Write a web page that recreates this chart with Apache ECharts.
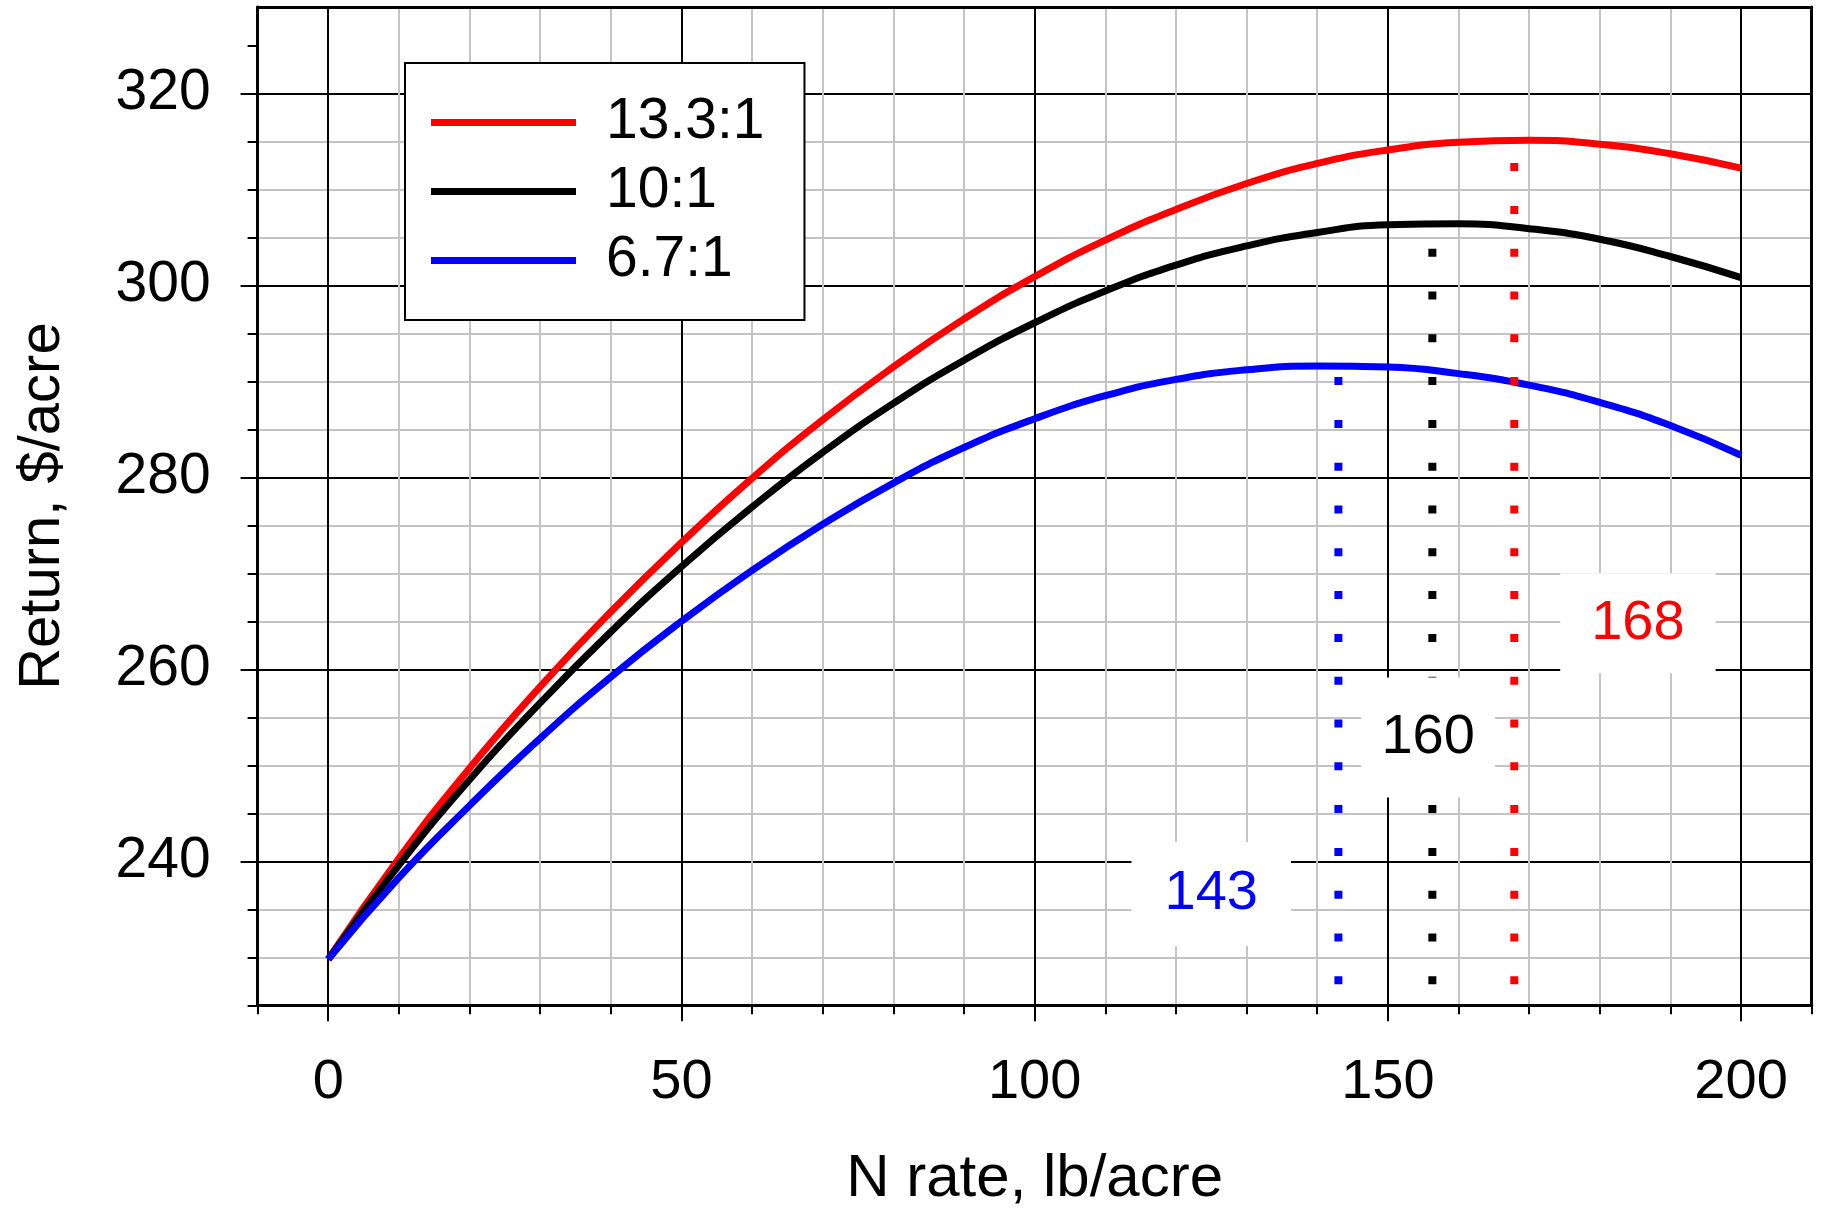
<!DOCTYPE html>
<html>
<head>
<meta charset="utf-8">
<title>Return vs N rate</title>
<script src="https://cdn.jsdelivr.net/npm/echarts@6/dist/echarts.min.js"></script>
<style>
  html, body { margin: 0; padding: 0; background: #fff; }
  #chart { width: 1826px; height: 1211px; }
</style>
</head>
<body>
<div id="chart"></div>
<script>
// N rate, lb/acre
const nRate = [0, 10, 20, 30, 40, 50, 60, 70, 80, 90, 100, 110, 120, 130, 140, 150, 160, 170, 180, 190, 200];
// Return, $/acre for each price ratio
const ret133 = [229.8, 240.3, 249.7, 258.2, 266.0, 273.2, 279.9, 286.0, 291.5, 296.5, 300.9, 304.7, 307.9, 310.6, 312.7, 314.1, 314.9, 315.1, 314.7, 313.7, 312.2];
const ret10 = [229.8, 239.6, 248.5, 256.5, 263.9, 270.7, 276.9, 282.6, 287.7, 292.2, 296.1, 299.4, 302.1, 304.1, 305.5, 306.3, 306.4, 305.9, 304.8, 303.0, 300.8];
const ret67 = [229.8, 238.3, 245.8, 252.8, 259.2, 265.0, 270.3, 275.1, 279.4, 283.1, 286.1, 288.5, 290.2, 291.2, 291.6, 291.5, 290.8, 289.6, 287.8, 285.4, 282.3];

const ratioNames = ["13.3:1", "10:1", "6.7:1"];
const ratioColors = ["#ff0000", "#000000", "#0000ff"];

// economic optimum N rate (dotted lines) and their labels
const optRate = [167.9, 156.3, 143.0];
const optReturn = [315.1, 306.8, 291.6];
const optText = ["168", "160", "143"];
const optLabelN = [185.4, 155.7, 125.0];
const optLabelY = [264.8, 252.9, 236.6];

// axes
const xMin = -10, xMax = 210;
const yMin = 225, yMax = 329;
const xMajor = [0, 50, 100, 150, 200];
const yMajor = [240, 260, 280, 300, 320];

const FONT = "'Liberation Sans', Arial, sans-serif";
const GRAY = "#c4c4c4";

const yMinorTicks = [];
for (let v = yMin; v <= 325; v += 5) yMinorTicks.push(v);

const chart = echarts.init(document.getElementById("chart"));

const retSets = [ret133, ret10, ret67];
const curveSeries = retSets.map((vals, i) => ({
    name: ratioNames[i],
    type: "line",
    data: nRate.map((n, k) => [n, vals[k]]),
    smooth: 0.5,
    showSymbol: false,
    lineStyle: { color: ratioColors[i], width: 7 },
    itemStyle: { color: ratioColors[i] },
    z: 3,
    silent: true
}));

// dotted drop lines from each curve peak down to the floor
const dropSeries = optRate.map((n, i) => ({
    name: "opt" + i,
    type: "line",
    data: [[n, yMin], [n, optReturn[i]]],
    showSymbol: false,
    lineStyle: { color: ratioColors[i], width: 8, type: [8, 34.8], dashOffset: 21.8, cap: "butt" },
    z: 4,
    silent: true
}));

const labelPad = [[22, 31], [32, 20], [24, 33]];
const labelSeries = {
    name: "optLabels",
    type: "scatter",
    symbolSize: 0,
    z: 6,
    silent: true,
    itemStyle: { opacity: 1 },
    emphasis: { disabled: true },
    data: optText.map((t, i) => ({
        value: [optLabelN[i], optLabelY[i]],
        label: {
            show: true,
            position: "inside",
            formatter: t,
            color: ratioColors[i],
            opacity: 1,
            fontSize: 56,
            lineHeight: 56,
            fontFamily: FONT,
            backgroundColor: "#fff",
            padding: labelPad[i]
        }
    }))
};

const option = {
    animation: false,
    backgroundColor: "#fff",
    grid: { left: 257.6, right: 14.3, top: 6.9, bottom: 205.7, containLabel: false, outerBoundsMode: "none" },
    legend: {
        data: ratioNames,
        orient: "vertical",
        left: 405,
        top: 63,
        icon: "rect",
        itemWidth: 145,
        itemHeight: 7,
        itemGap: 12,
        padding: [31, 40, 31, 26],
        backgroundColor: "#fff",
        borderColor: "#000",
        borderWidth: 2,
        selectedMode: false,
        textStyle: { fontSize: 57, lineHeight: 56, color: "#000", fontFamily: FONT, padding: [0, 0, 0, 25] },
        z: 10
    },
    xAxis: [
        {
            type: "value",
            min: xMin, max: xMax, interval: 10,
            position: "bottom",
            name: "N rate, lb/acre",
            nameLocation: "middle",
            nameGap: 144,
            nameTextStyle: { fontSize: 60, color: "#000", fontFamily: FONT },
            axisLine: { onZero: false, lineStyle: { color: "#000", width: 3 } },
            axisTick: { length: 9, lineStyle: { color: "#000", width: 2 } },
            axisLabel: {
                fontSize: 56, color: "#000", fontFamily: FONT, margin: 49,
                formatter: v => (xMajor.indexOf(v) >= 0 ? String(v) : "")
            },
            splitLine: {
                show: true, showMinLine: false, showMaxLine: false,
                lineStyle: { color: ["#000", GRAY, GRAY, GRAY, GRAY], width: 2 }
            }
        },
        {
            type: "value",
            min: xMin, max: xMax,
            position: "bottom",
            axisLine: { show: false, onZero: false },
            axisTick: { show: true, length: 16, customValues: xMajor, lineStyle: { color: "#000", width: 2 } },
            axisLabel: { show: false },
            splitLine: { show: false }
        },
        {
            type: "value",
            min: xMin, max: xMax,
            position: "top",
            axisLine: { show: true, onZero: false, lineStyle: { color: "#000", width: 3 } },
            axisTick: { show: false },
            axisLabel: { show: false },
            splitLine: { show: false }
        }
    ],
    yAxis: [
        {
            type: "value",
            min: yMin, max: yMax, interval: 5,
            position: "left",
            name: "Return, $/acre",
            nameLocation: "middle",
            nameGap: 186,
            nameRotate: 90,
            nameTextStyle: { fontSize: 58, color: "#000", fontFamily: FONT },
            axisLine: { onZero: false, lineStyle: { color: "#000", width: 3 } },
            axisTick: { length: 10, customValues: yMinorTicks, lineStyle: { color: "#000", width: 2 } },
            axisLabel: { show: false },
            splitLine: {
                show: true, showMinLine: false, showMaxLine: false,
                lineStyle: { color: [GRAY, GRAY, "#000", GRAY], width: 2 }
            }
        },
        {
            type: "value",
            min: yMin, max: yMax,
            position: "left",
            axisLine: { show: false, onZero: false },
            axisTick: { show: true, length: 17, customValues: yMajor, lineStyle: { color: "#000", width: 2 } },
            axisLabel: {
                show: true, customValues: yMajor,
                fontSize: 57, color: "#000", fontFamily: FONT, margin: 47
            },
            splitLine: { show: false }
        },
        {
            type: "value",
            min: yMin, max: yMax,
            position: "right",
            axisLine: { show: true, onZero: false, lineStyle: { color: "#000", width: 3 } },
            axisTick: { show: false },
            axisLabel: { show: false },
            splitLine: { show: false }
        }
    ],
    series: [...curveSeries, ...dropSeries, labelSeries]
};

chart.setOption(option);
</script>
</body>
</html>
